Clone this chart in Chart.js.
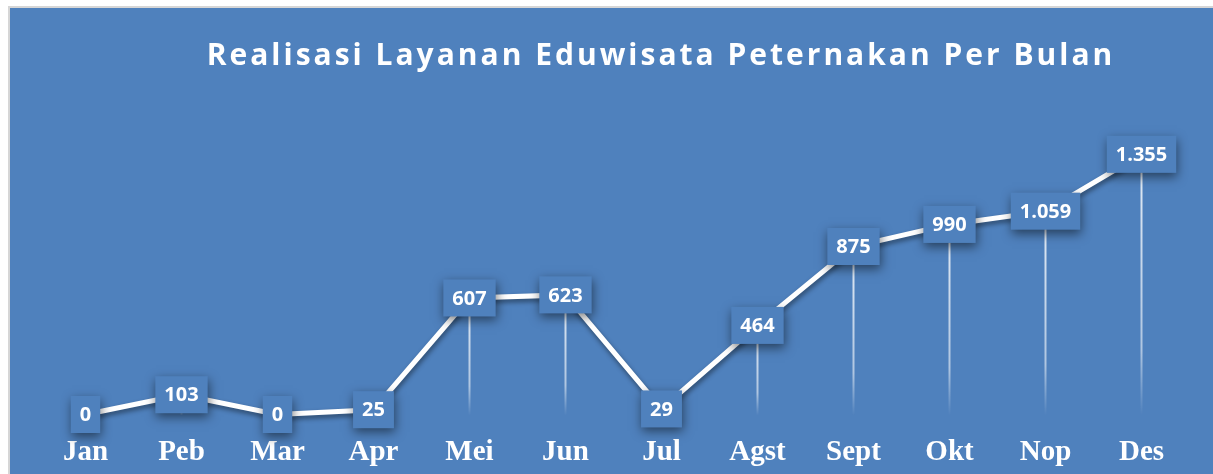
<!DOCTYPE html>
<html>
<head>
<meta charset="utf-8">
<script src="https://cdn.jsdelivr.net/npm/chart.js@4"></script>
<style>
  body { margin: 0; background: #fff; }
  #wrap {
    position: absolute; left: 8px; top: 6px;
    width: 1203px; height: 466px;
    border-top: 2px solid #d6d6d6; border-left: 2px solid #d6d6d6;
    background: #4f81bd;
  }
</style>
</head>
<body>
<div id="wrap"><canvas id="chart"></canvas></div>
<script>
const months = ['Jan', 'Peb', 'Mar', 'Apr', 'Mei', 'Jun', 'Jul', 'Agst', 'Sept', 'Okt', 'Nop', 'Des'];
const visitors = [0, 103, 0, 25, 607, 623, 29, 464, 875, 990, 1059, 1355];
const chartTitle = 'Realisasi Layanan Eduwisata Peternakan Per Bulan';

const blue = '#4f81bd';
const fmt = v => String(v).replace(/\B(?=(\d{3})+(?!\d))/g, '.');

// faded vertical lines from each point down to the baseline
const dropLines = {
  id: 'dropLines',
  beforeDatasetsDraw(chart) {
    const { ctx, scales: { y } } = chart;
    const base = y.getPixelForValue(0) + 1;
    ctx.save();
    chart.getDatasetMeta(0).data.forEach(p => {
      const g = ctx.createLinearGradient(0, p.y, 0, base);
      g.addColorStop(0, 'rgba(255,255,255,0.85)');
      g.addColorStop(0.75, 'rgba(255,255,255,0.55)');
      g.addColorStop(1, 'rgba(255,255,255,0)');
      ctx.strokeStyle = g;
      ctx.lineWidth = 2;
      ctx.beginPath();
      ctx.moveTo(p.x, p.y);
      ctx.lineTo(p.x, base);
      ctx.stroke();
    });
    ctx.restore();
  }
};

const lineShadow = {
  id: 'lineShadow',
  beforeDatasetDraw(chart) {
    const ctx = chart.ctx;
    ctx.save();
    ctx.shadowColor = 'rgba(0,0,0,0.45)';
    ctx.shadowBlur = 5;
    ctx.shadowOffsetX = 1;
    ctx.shadowOffsetY = 3;
  },
  afterDatasetDraw(chart) {
    chart.ctx.restore();
  }
};

// boxed value labels centred on each point
const valueBoxes = {
  id: 'valueBoxes',
  afterDatasetsDraw(chart) {
    const ctx = chart.ctx;
    ctx.save();
    ctx.font = 'bold 20px "Open Sans"';
    ctx.textAlign = 'center';
    ctx.textBaseline = 'middle';
    chart.getDatasetMeta(0).data.forEach((p, i) => {
      const txt = fmt(visitors[i]);
      const w = ctx.measureText(txt).width + 18;
      const h = 37;
      ctx.save();
      ctx.shadowColor = 'rgba(0,0,0,0.5)';
      ctx.shadowBlur = 10;
      ctx.shadowOffsetX = 1;
      ctx.shadowOffsetY = 4;
      ctx.fillStyle = blue;
      ctx.fillRect(p.x - w / 2, p.y - h / 2, w, h);
      ctx.restore();
      ctx.fillStyle = '#fff';
      ctx.fillText(txt, p.x, p.y + 1);
    });
    ctx.restore();
  }
};

const spacedTitle = {
  id: 'spacedTitle',
  afterDraw(chart) {
    const ctx = chart.ctx;
    ctx.save();
    ctx.font = 'bold 30px "Open Sans"';
    ctx.letterSpacing = '3px';
    ctx.fillStyle = '#fff';
    ctx.textAlign = 'center';
    ctx.textBaseline = 'alphabetic';
    ctx.fillText(chartTitle, 651, 57);
    ctx.restore();
  }
};

new Chart(document.getElementById('chart'), {
  type: 'line',
  data: {
    labels: months,
    datasets: [{
      label: 'Realisasi',
      data: visitors,
      borderColor: '#fff',
      borderWidth: 5,
      pointRadius: 0,
      tension: 0,
      clip: false
    }]
  },
  options: {
    responsive: true,
    maintainAspectRatio: false,
    animation: false,
    layout: { padding: { top: 118.5, left: 27.5, right: 23.5, bottom: 0 } },
    plugins: {
      legend: { display: false },
      tooltip: { enabled: false }
    },
    scales: {
      x: {
        offset: true,
        grid: { display: false, drawTicks: false },
        border: { display: false },
        ticks: {
          color: '#fff',
          font: { family: 'Liberation Serif', size: 29, weight: 'bold' },
          padding: 21,
          maxRotation: 0,
          autoSkip: false
        },
        afterFit: s => { s.height = 59.5; }
      },
      y: { display: false, min: 0, max: 1500 }
    }
  },
  plugins: [dropLines, lineShadow, valueBoxes, spacedTitle]
});
</script>
</body>
</html>
